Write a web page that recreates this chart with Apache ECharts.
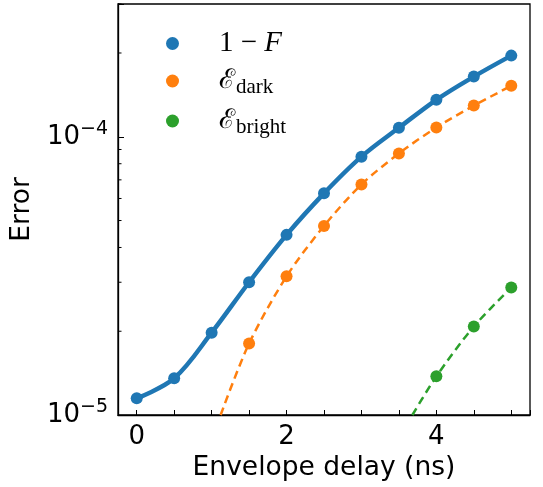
<!DOCTYPE html>
<html>
<head>
<meta charset="utf-8">
<script src="https://cdn.jsdelivr.net/npm/echarts@6/dist/echarts.min.js"></script>
<style>
  html, body { margin: 0; padding: 0; background: #fff; }
  #chart { width: 543px; height: 487px; }
</style>
</head>
<body>
<div id="chart"></div>
<script>
// values (x in ns, y = error)
const delays = [0, 0.5, 1, 1.5, 2, 2.5, 3, 3.5, 4, 4.5, 5];
const infidelity = [1.148e-5, 1.355e-5, 1.977e-5, 3.0e-5, 4.44e-5, 6.26e-5, 8.48e-5, 1.077e-4, 1.358e-4, 1.645e-4, 1.957e-4];

const darkDelays = [1.5, 2, 2.5, 3, 3.5, 4, 4.5, 5];
const darkError = [1.807e-5, 3.15e-5, 4.78e-5, 6.74e-5, 8.71e-5, 1.08e-4, 1.294e-4, 1.524e-4];

const brightDelays = [4, 4.5, 5];
const brightError = [1.377e-5, 2.08e-5, 2.87e-5];

// where the dashed fit curves leave the plot at the bottom
const darkFitStart = [1.12, 1e-5];
const brightFitStart = [3.68, 1e-5];

const minorTickValues = [2e-5, 3e-5, 4e-5, 5e-5, 6e-5, 7e-5, 8e-5, 9e-5, 2e-4, 3e-4];

const BLUE = "#1f77b4";
const ORANGE = "#ff7f0e";
const GREEN = "#2ca02c";
const X_MIN = -0.25;
const X_MAX = 5.25;

const pairs = (xs, ys) => xs.map((x, i) => [x, ys[i]]);

const chart = echarts.init(document.getElementById("chart"));

const sansFont = "DejaVu Sans";
const serifFont = "Liberation Serif";

const option = {
  animation: false,
  backgroundColor: "#fff",
  grid: {
    left: 118, top: 4, right: 13, bottom: 71,
    show: true, borderColor: "#000", borderWidth: 1.3, backgroundColor: "transparent",
  },
  legend: {
    orient: "vertical",
    left: 161,
    top: 24,
    itemWidth: 13,
    itemHeight: 13,
    itemGap: 6,
    icon: "circle",
    data: ["1-F", "dark", "bright"],
    formatter: (name) => {
      if (name === "1-F") return "{n|1 − }{i|F}";
      if (name === "dark") return "{e|ℰ}{s|dark}";
      return "{e|ℰ}{s|bright}";
    },
    textStyle: {
      padding: [0, 0, 0, 35],
      rich: {
        n: { fontFamily: serifFont, fontSize: 29, lineHeight: 34, color: "#000" },
        i: { fontFamily: serifFont, fontStyle: "italic", fontSize: 29, lineHeight: 34, color: "#000" },
        e: { fontFamily: "DejaVu Serif", fontSize: 27, lineHeight: 34, color: "#000" },
        s: { fontFamily: serifFont, fontSize: 21, lineHeight: 34, color: "#000", padding: [13, 0, 0, 1] },
      },
    },
  },
  xAxis: {
    type: "value",
    min: X_MIN,
    max: X_MAX,
    minInterval: 0.5,
    maxInterval: 0.5,
    name: "Envelope delay (ns)",
    nameLocation: "middle",
    nameGap: 40,
    nameTextStyle: { fontFamily: sansFont, fontSize: 26.5, color: "#000" },
    axisLine: { show: true, onZero: false, lineStyle: { color: "#000", width: 1.3 } },
    axisTick: { show: true, inside: true, length: 5, lineStyle: { color: "#000", width: 1 } },
    axisLabel: {
      fontFamily: sansFont, fontSize: 26, color: "#000", margin: 9,
      formatter: (v) => (Math.abs(v / 2 - Math.round(v / 2)) < 1e-6 && v >= 0 && v <= 5 ? String(Math.round(v)) : ""),
    },
    splitLine: { show: false },
  },
  yAxis: {
    type: "log",
    logBase: 10,
    min: 1e-5,
    max: 3e-4,
    name: "Error",
    nameLocation: "middle",
    nameGap: 80,
    nameTextStyle: { fontFamily: sansFont, fontSize: 26.5, color: "#000" },
    axisLine: { show: true, onZero: false, lineStyle: { color: "#000", width: 1.3 } },
    axisTick: { show: true, inside: true, length: 6, lineStyle: { color: "#000", width: 1 } },
    axisLabel: {
      margin: 10,
      formatter: (v) => {
        const p = Math.log10(v);
        if (Math.abs(p - Math.round(p)) > 1e-6) return "";
        return "{b|10}{s|−" + Math.abs(Math.round(p)) + "}";
      },
      rich: {
        b: { fontFamily: sansFont, fontSize: 26, color: "#000", lineHeight: 30 },
        s: { fontFamily: sansFont, fontSize: 19, color: "#000", lineHeight: 30, padding: [0, 0, 16, 0] },
      },
    },
    splitLine: { show: false },
  },
  series: [
    {
      name: "minorTicks",
      type: "custom",
      silent: true,
      clip: false,
      data: minorTickValues.map((v) => [X_MIN, v]),
      renderItem: (params, api) => {
        const p = api.coord([api.value(0), api.value(1)]);
        return {
          type: "line",
          shape: { x1: p[0], y1: p[1], x2: p[0] + 3.5, y2: p[1] },
          style: { stroke: "#000", lineWidth: 1 },
        };
      },
      z: 1,
    },
    {
      name: "1-F fit",
      type: "line",
      data: pairs(delays, infidelity),
      smooth: 0.35,
      showSymbol: false,
      lineStyle: { color: BLUE, width: 4.5 },
      clip: true,
      z: 3,
    },
    {
      name: "dark fit",
      type: "line",
      data: [darkFitStart].concat(pairs(darkDelays, darkError)),
      smooth: 0.3,
      showSymbol: false,
      lineStyle: { color: ORANGE, width: 2.5, type: [8, 5] },
      clip: true,
      z: 2,
    },
    {
      name: "bright fit",
      type: "line",
      data: [brightFitStart].concat(pairs(brightDelays, brightError)),
      smooth: 0.3,
      showSymbol: false,
      lineStyle: { color: GREEN, width: 2.5, type: [8, 5] },
      clip: true,
      z: 2,
    },
    {
      name: "1-F",
      type: "scatter",
      data: pairs(delays, infidelity),
      symbolSize: 12,
      itemStyle: { color: BLUE, opacity: 1 },
      z: 4,
    },
    {
      name: "dark",
      type: "scatter",
      data: pairs(darkDelays, darkError),
      symbolSize: 12,
      itemStyle: { color: ORANGE, opacity: 1 },
      z: 4,
    },
    {
      name: "bright",
      type: "scatter",
      data: pairs(brightDelays, brightError),
      symbolSize: 12,
      itemStyle: { color: GREEN, opacity: 1 },
      z: 4,
    },
  ],
};

chart.setOption(option);
</script>
</body>
</html>
